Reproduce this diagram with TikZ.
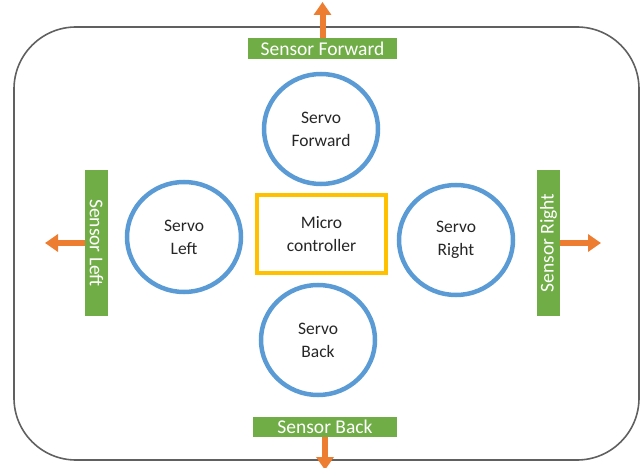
\documentclass[tikz,border=0pt]{standalone}
\usepackage{fontspec}
\setmainfont{Carlito}
\usetikzlibrary{shapes.geometric,arrows.meta}
\definecolor{servoblue}{HTML}{5B9BD5}
\definecolor{sensgreen}{HTML}{70AD47}
\definecolor{arrorange}{HTML}{ED7D31}
\definecolor{mcuyellow}{HTML}{FFC000}
\definecolor{frame}{HTML}{606060}
\definecolor{txt}{HTML}{262626}
\tikzset{
  servo/.style={ellipse, draw=servoblue, line width=4.5pt, minimum width=114pt, minimum height=110pt, inner sep=0pt, align=center, text=txt, font=\fontsize{17.5}{23}\selectfont},
  mcu/.style={rectangle, draw=mcuyellow, line width=4.5pt, minimum width=129pt, minimum height=78pt, inner sep=0pt, align=center, text=txt, font=\fontsize{17.5}{23}\selectfont},
  sensor/.style={rectangle, fill=sensgreen, inner sep=0pt, text=white, font=\fontsize{19.5}{20}\selectfont},
  outarrow/.style={draw=arrorange, line width=6pt, -{Triangle[length=13pt,width=17pt]}},
}
\begin{document}
\begin{tikzpicture}[x=1pt,y=-1pt]
\useasboundingbox (0,0) rectangle (641,468);
\draw[frame, line width=1.6pt, rounded corners=62pt] (14,27) rectangle (639,460);
\node[servo] (sfw) at (321,129) {Servo\\Forward};
\node[servo] (sl) at (184,237) {Servo\\Left};
\node[servo] (sr) at (456,240) {Servo\\Right};
\node[servo] (sb) at (318,340) {Servo\\Back};
\node[mcu] (mcu) at (321.5,234) {Micro\\controller};
\node[sensor, minimum width=149pt, minimum height=21pt] (snf) at (322.5,48.5) {Sensor Forward};
\node[sensor, minimum width=144pt, minimum height=20pt] (snb) at (325,427) {Sensor Back};
\node[sensor, minimum width=146pt, minimum height=23pt, rotate=-90] (snl) at (96.5,243) {Sensor Left};
\node[sensor, minimum width=146pt, minimum height=23pt, rotate=90] (snr) at (548.5,243) {Sensor Right};
\coordinate (tf) at (322.5,2);
\coordinate (tb) at (325,470);
\coordinate (tl) at (45,243);
\coordinate (tr) at (601,243);
\draw[outarrow] (snf.north) -- (tf);
\draw[outarrow] (snb.south) -- (tb);
\draw[outarrow] (snl.south) -- (tl);
\draw[outarrow] (snr.south) -- (tr);
\end{tikzpicture}
\end{document}
